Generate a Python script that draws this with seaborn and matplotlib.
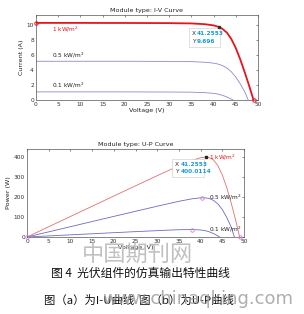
import matplotlib
matplotlib.use("Agg")
import matplotlib.pyplot as plt
from matplotlib.patches import Rectangle
import seaborn as sns
import pandas as pd

# ---- data ----
V1 = [0, 5, 10, 15, 20, 25, 30, 35, 38, 40, 41.2553, 42, 43, 44, 45, 46, 47, 48, 49]
I1 = [10.25, 10.25, 10.25, 10.24, 10.24, 10.23, 10.22, 10.18, 10.08, 9.92, 9.696, 9.45, 8.95, 8.1, 6.9, 5.4, 3.7, 1.9, 0]
P1 = [0, 51.3, 102.5, 153.6, 204.8, 255.8, 306.6, 356.3, 383.0, 396.8, 400.0114, 396.9, 384.9, 356.4, 310.5, 248.4, 173.9, 91.2, 0]

V2 = [0, 5, 10, 15, 20, 25, 30, 35, 38, 40, 41, 42, 43, 44, 45, 46, 47, 47.8]
I2 = [5.15, 5.15, 5.15, 5.15, 5.15, 5.14, 5.13, 5.10, 5.02, 4.90, 4.78, 4.58, 4.25, 3.75, 3.05, 2.15, 1.10, 0]
P2 = [0, 25.8, 51.5, 77.3, 103.0, 128.5, 153.9, 178.5, 190.8, 196.0, 196.0, 192.4, 182.8, 165.0, 137.3, 98.9, 51.7, 0]

V3 = [0, 5, 10, 15, 20, 25, 30, 35, 38, 40, 41, 42, 43, 44, 44.4]
I3 = [1.08, 1.08, 1.08, 1.08, 1.08, 1.07, 1.06, 1.04, 0.98, 0.88, 0.78, 0.62, 0.40, 0.12, 0]
P3 = [0, 5.4, 10.8, 16.2, 21.6, 26.8, 31.8, 36.4, 37.2, 35.2, 32.0, 26.0, 17.2, 5.3, 0]

irr_labels = ["1 kW/m$^2$", "0.5 kW/m$^2$", "0.1 kW/m$^2$"]
iv_x_ticks = [0, 5, 10, 15, 20, 25, 30, 35, 40, 45, 50]
iv_y_ticks = [0, 2, 4, 6, 8, 10]
up_y_ticks = [0, 100, 200, 300, 400]
mpp_v = 41.2553
mpp_i = 9.696
mpp_p = 400.0114
up_marks_v = [40.4, 38.0]
up_marks_p = [196.0, 37.2]

title_iv = "Module type: I-V Curve"
title_up = "Module type: U-P Curve"
caption1 = "图 4  光伏组件的仿真输出特性曲线"
caption2 = "图（a）为I-U曲线  图（b）为U-P曲线"
watermark1 = "中国期刊网"
watermark2 = "www.chinaqking.com"

sns.set_theme(style="white")
plt.rcParams["font.family"] = ["DejaVu Sans", "Noto Sans CJK SC"]

df = pd.concat([
    pd.DataFrame({"V": V1, "I": I1, "P": P1, "G": irr_labels[0]}),
    pd.DataFrame({"V": V2, "I": I2, "P": P2, "G": irr_labels[1]}),
    pd.DataFrame({"V": V3, "I": I3, "P": P3, "G": irr_labels[2]}),
])

fig = plt.figure(figsize=(3.04, 3.14), dpi=100)
fig.patch.set_facecolor("white")

RED = "#e8141c"
BLUE = "#8a8ad0"
PINK = "#d080d8"
CYAN = "#1a9ad8"
tick_fs = 4.2
lab_fs = 4.6
txt_fs = 4.2


def style_axes(ax):
    for s in ax.spines.values():
        s.set_visible(True)
        s.set_color("#555555")
        s.set_linewidth(0.5)
    ax.tick_params(axis="both", which="both", direction="in", length=1.5, width=0.4,
                   labelsize=tick_fs, colors="#333333", pad=1.5, top=True, right=True)
    ax.set_facecolor("white")


def datatip(ax, x0, y0, x1, y1, xval, yval):
    ax.add_patch(Rectangle((x0, y1), x1 - x0, y0 - y1, fc="white", ec="#c8c8c8", lw=0.4, zorder=5))
    dx = (x1 - x0)
    dy = (y0 - y1)
    ax.text(x0 + 0.08 * dx, y0 - 0.3 * dy, "X", fontsize=txt_fs, color="#333333", va="center", zorder=6)
    ax.text(x0 + 0.26 * dx, y0 - 0.3 * dy, xval, fontsize=txt_fs, color=CYAN, va="center", weight="bold", zorder=6)
    ax.text(x0 + 0.08 * dx, y0 - 0.72 * dy, "Y", fontsize=txt_fs, color="#333333", va="center", zorder=6)
    ax.text(x0 + 0.26 * dx, y0 - 0.72 * dy, yval, fontsize=txt_fs, color=CYAN, va="center", weight="bold", zorder=6)


# ---------- I-V ----------
ax1 = fig.add_axes([36 / 304, 1 - 100 / 314, 222 / 304, 85 / 314])
sns.lineplot(data=df[df.G == irr_labels[1]], x="V", y="I", ax=ax1, color=BLUE, lw=0.6, legend=False, sort=False)
sns.lineplot(data=df[df.G == irr_labels[2]], x="V", y="I", ax=ax1, color=BLUE, lw=0.6, legend=False, sort=False)
sns.lineplot(data=df[df.G == irr_labels[0]], x="V", y="I", ax=ax1, color=RED, lw=1.3, legend=False, sort=False)
ax1.plot([V1[0], V1[-1]], [I1[0], I1[-1]], "o", ms=2.5, mfc="none", mec=RED, mew=0.7, clip_on=False, zorder=7)
ax1.plot([mpp_v], [mpp_i], "s", ms=1.6, color="#333333", zorder=7)
ax1.set_xlim(0, 50)
ax1.set_ylim(0, 11.3)
ax1.set_xticks(iv_x_ticks)
ax1.set_yticks(iv_y_ticks)
style_axes(ax1)
ax1.set_title(title_iv, fontsize=lab_fs, pad=2, color="#222222")
ax1.set_xlabel("Voltage (V)", fontsize=lab_fs, labelpad=1, color="#222222")
ax1.set_ylabel("Current (A)", fontsize=lab_fs, labelpad=2, color="#222222")
ax1.text(3.5, 9.4, irr_labels[0], fontsize=txt_fs, color=RED, va="center")
ax1.text(3.5, 6.0, irr_labels[1], fontsize=txt_fs, color="#222222", va="center")
ax1.text(3.5, 2.0, irr_labels[2], fontsize=txt_fs, color="#222222", va="center")
datatip(ax1, 34.5, 9.55, 41.4, 7.1, f"{mpp_v:.4f}", f"{mpp_i:.3f}")

# ---------- U-P ----------
ax2 = fig.add_axes([27 / 304, 1 - 237 / 314, 217 / 304, 88 / 314])
sns.lineplot(data=df[df.G == irr_labels[0]], x="V", y="P", ax=ax2, color="#e07070", lw=0.6, legend=False, sort=False)
sns.lineplot(data=df[df.G == irr_labels[1]], x="V", y="P", ax=ax2, color="#6a6ac8", lw=0.6, legend=False, sort=False)
sns.lineplot(data=df[df.G == irr_labels[2]], x="V", y="P", ax=ax2, color="#6a6ac8", lw=0.6, legend=False, sort=False)
ax2.plot([0, V1[-1]], [0, 0], "o", ms=2.5, mfc="none", mec=PINK, mew=0.6, clip_on=False, zorder=7)
ax2.plot(up_marks_v, up_marks_p, "o", ms=2.5, mfc="none", mec=PINK, mew=0.6, zorder=7)
ax2.plot([mpp_v], [mpp_p], "s", ms=1.6, color="#222222", zorder=7)
ax2.set_xlim(0, 50)
ax2.set_ylim(0, 440)
ax2.set_xticks(iv_x_ticks)
ax2.set_yticks(up_y_ticks)
style_axes(ax2)
ax2.set_title(title_up, fontsize=lab_fs, pad=2, color="#222222")
ax2.set_xlabel("Voltage (V)", fontsize=lab_fs, labelpad=1, color="#222222")
ax2.set_ylabel("Power (W)", fontsize=lab_fs, labelpad=2, color="#222222")
ax2.text(42.0, 400, irr_labels[0], fontsize=txt_fs, color=RED, va="center")
ax2.text(42.0, 198, irr_labels[1], fontsize=txt_fs, color="#222222", va="center")
ax2.text(42.0, 38, irr_labels[2], fontsize=txt_fs, color="#222222", va="center")
datatip(ax2, 33.5, 392, 40.7, 300, f"{mpp_v:.4f}", f"{mpp_p:.4f}")

# ---------- captions & watermarks ----------
fig.text(137 / 304, 1 - 254 / 314, watermark1, fontsize=16, color="#c0c0c0",
         ha="center", va="center", family=["Noto Sans CJK SC"], weight="light")
fig.text(140 / 304, 1 - 273 / 314, caption1, fontsize=8.5, color="#111111",
         ha="center", va="center", family=["Noto Sans CJK SC", "DejaVu Sans"])
fig.text(44 / 304, 1 - 300 / 314, caption2, fontsize=8.2, color="#111111",
         ha="left", va="center", family=["Noto Sans CJK SC", "DejaVu Sans"])
fig.text(102 / 304, 1 - 299 / 314, watermark2, fontsize=13, color="#9a9a9a", alpha=0.8,
         ha="left", va="center", family=["DejaVu Sans"])

fig.savefig("out.png", dpi=100, facecolor="white")
